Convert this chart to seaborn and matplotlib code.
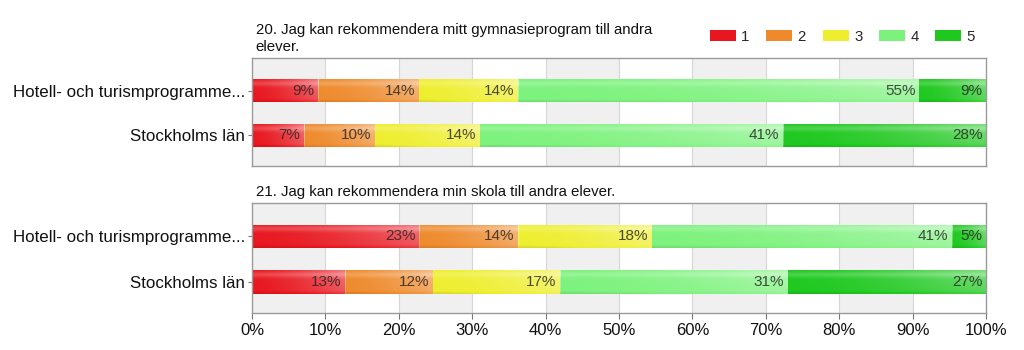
import numpy as np
import matplotlib
matplotlib.use('Agg')
import matplotlib.pyplot as plt
import seaborn as sns
from matplotlib.patches import Patch

# data
groups = ['Hotell- och turismprogramme...', 'Stockholms län']
answers = ['1', '2', '3', '4', '5']
colors = ['#e8161e', '#ee8a2c', '#eeee2e', '#7cf27c', '#1ec81e']

q20_title = '20. Jag kan rekommendera mitt gymnasieprogram till andra\nelever.'
q20_hotell = [9.0, 13.7, 13.6, 54.6, 9.1]
q20_sthlm = [7.1, 9.6, 14.3, 41.3, 27.7]

q21_title = '21. Jag kan rekommendera min skola till andra elever.'
q21_hotell = [22.8, 13.5, 18.2, 40.9, 4.6]
q21_sthlm = [12.7, 11.9, 17.4, 31.0, 27.0]

x_ticks = [0, 10, 20, 30, 40, 50, 60, 70, 80, 90, 100]
x_ticklabels = [f'{t}%' for t in x_ticks]

BAR_W = 0.51

sns.set_style('white')
plt.rcParams['font.family'] = ['Liberation Sans', 'DejaVu Sans']

fig = plt.figure(figsize=(10.24, 3.5), dpi=100)
ax1 = fig.add_axes([0.2461, 0.5257, 0.7168, 0.3077])
ax2 = fig.add_axes([0.2461, 0.1049, 0.7168, 0.3143])


def gloss(ax, x0, x1, yc):
    # vit glans: ljusare åt höger och i överkanten
    xs = np.linspace(0, 1, 120)[None, :]
    ys = np.linspace(0, 1, 24)[:, None]
    alpha = (0.02 + 0.38 * xs ** 1.6) * (1 - 0.35 * ys)
    alpha += 0.18 * np.exp(-((ys - 0.18) / 0.12) ** 2)
    alpha -= 0.10 * np.exp(-((ys - 1.0) / 0.08) ** 2)
    rgba = np.ones((24, 120, 4))
    neg = alpha < 0
    rgba[neg, :3] = 0
    rgba[..., 3] = np.clip(np.abs(alpha), 0, 1)
    ax.imshow(rgba, extent=(x0, x1, yc + BAR_W / 2, yc - BAR_W / 2),
              origin='upper', aspect='auto', zorder=2.5,
              interpolation='bilinear')


def draw_panel(ax, rows, title, show_x):
    vals = np.array(rows)
    cum = np.cumsum(vals, axis=1)
    # bakgrundsband och rutnät
    for x0 in range(0, 100, 20):
        ax.axvspan(x0, x0 + 10, color='#f0f0f0', zorder=0, lw=0)
    for x0 in range(10, 100, 10):
        ax.axvline(x0, color='#d6d6d6', lw=0.8, zorder=0.5)
    # staplade staplar: ritar kumulativa summor bakifrån
    for k in range(len(answers) - 1, -1, -1):
        sns.barplot(x=cum[:, k], y=groups, color=colors[k], orient='h',
                    width=BAR_W, saturation=1, linewidth=0, ax=ax, zorder=2)
    for i in range(len(groups)):
        for k in range(len(answers)):
            start = cum[i, k - 1] if k > 0 else 0
            gloss(ax, start, cum[i, k], i)
            ax.text(cum[i, k] - 0.5, i, f'{vals[i, k]:.0f}%', ha='right',
                    va='center', fontsize=11, color='#202020', alpha=0.8,
                    zorder=3)
    ax.set_xlim(0, 100)
    ax.set_ylim(1.68, -0.72)
    ax.set_xlabel('')
    ax.set_ylabel('')
    for s in ax.spines.values():
        s.set_color('#9a9a9a')
        s.set_linewidth(1)
        s.set_zorder(4)
    ax.tick_params(axis='y', length=3, color='#777777', labelsize=12.2,
                   labelcolor='#111111', pad=2, left=True)
    ax.set_xticks(x_ticks)
    if show_x:
        ax.set_xticklabels(x_ticklabels)
        ax.tick_params(axis='x', length=4, color='#777777', labelsize=12,
                       labelcolor='#111111', pad=3, bottom=True)
    else:
        ax.set_xticklabels([])
        ax.tick_params(axis='x', length=0)
    ax.text(0.005, 1.04, title, transform=ax.transAxes, ha='left',
            va='bottom', fontsize=10.8, color='#111111', linespacing=1.25)


draw_panel(ax1, [q20_hotell, q20_sthlm], q20_title, False)
draw_panel(ax2, [q21_hotell, q21_sthlm], q21_title, True)

handles = [Patch(facecolor=c, edgecolor='none') for c in colors]
fig.legend(handles, answers, loc='center right',
           bbox_to_anchor=(975 / 1024, 1 - 37 / 350), ncol=5, frameon=False,
           fontsize=10.8, handlelength=1.75, handleheight=0.75,
           handletextpad=0.35, columnspacing=1.1, borderpad=0,
           borderaxespad=0)

fig.savefig('out.png', dpi=100)
